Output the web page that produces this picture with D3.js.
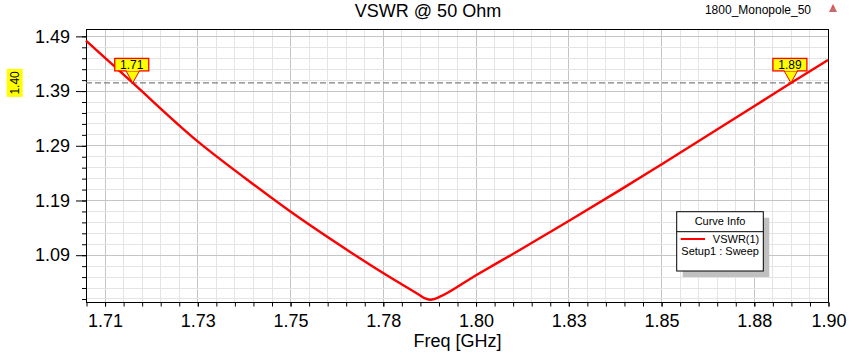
<!DOCTYPE html>
<html>
<head>
<meta charset="utf-8">
<script src="https://cdn.jsdelivr.net/npm/d3@7"></script>
<style>
  html, body { margin: 0; padding: 0; background: #ffffff; }
  svg { display: block; }
  text { font-family: Arial, "Liberation Sans", sans-serif; fill: #000; }
</style>
</head>
<body>
<svg id="chart" width="855" height="352"></svg>
<script>
// ---- data ----
const freq = [1.7000, 1.7126, 1.7301, 1.7431, 1.7550, 1.7712, 1.7801, 1.7900, 1.7914, 1.7927, 1.7940, 1.7954, 1.8049, 1.8152, 1.8300, 1.8439, 1.8552, 1.8803, 1.8900, 1.9000];
const vswr = [1.4814, 1.4040, 1.2972, 1.2289, 1.1694, 1.0951, 1.0564, 1.0158, 1.0100, 1.0077, 1.0092, 1.0132, 1.0516, 1.0918, 1.1510, 1.2080, 1.2555, 1.3622, 1.4040, 1.4459];

const xTickValues = [1.705, 1.730, 1.755, 1.780, 1.805, 1.830, 1.855, 1.880, 1.900];
const xTickLabels = ["1.71", "1.73", "1.75", "1.78", "1.80", "1.83", "1.85", "1.88", "1.90"];
const xMinorValues = [1.700,1.705,1.710,1.715,1.720,1.725,1.730,1.735,1.740,1.745,1.750,1.755,1.760,1.765,1.770,1.775,1.780,1.785,1.790,1.795,1.800,1.805,1.810,1.815,1.820,1.825,1.830,1.835,1.840,1.845,1.850,1.855,1.860,1.865,1.870,1.875,1.880,1.885,1.890,1.895,1.900];
const yTickValues = [1.09, 1.19, 1.29, 1.39, 1.49];
const yTickLabels = ["1.09", "1.19", "1.29", "1.39", "1.49"];
const yMinorValues = [1.01,1.03,1.05,1.07,1.09,1.11,1.13,1.15,1.17,1.19,1.21,1.23,1.25,1.27,1.29,1.31,1.33,1.35,1.37,1.39,1.41,1.43,1.45,1.47,1.49];

const markerFreqs = [1.7126, 1.8900];
const markerValues = [1.4040, 1.4040];
const markerLabels = ["1.71", "1.89"];
const refLevel = 1.4040;
const refLabel = "1.40";

const xDomain = [1.70, 1.90];
const yDomain = [1.003, 1.502];

const titleText = "VSWR @ 50 Ohm";
const projectText = "1800_Monopole_50";
const xAxisTitle = "Freq [GHz]";
const legendTitle = "Curve Info";
const seriesName = "VSWR(1)";
const seriesSetup = "Setup1 : Sweep";

// ---- layout ----
const L = 86, T = 29.3, R = 828, B = 302.3;
const svg = d3.select("#chart");

const x = d3.scaleLinear().domain(xDomain).range([L, R]);
const y = d3.scaleLinear().domain(yDomain).range([B, T]);

const majorSetX = new Set(xTickValues.map(v => v.toFixed(3)));
const majorSetY = new Set(yTickValues.map(v => v.toFixed(2)));

// grid
const grid = svg.append("g");
grid.selectAll("line.vx").data(xMinorValues).enter().append("line")
  .attr("x1", d => Math.round(x(d)) + 0.5).attr("x2", d => Math.round(x(d)) + 0.5)
  .attr("y1", T).attr("y2", B)
  .attr("stroke", d => majorSetX.has(d.toFixed(3)) ? "#c4c4c4" : "#e4e4e4")
  .attr("stroke-width", 1);
grid.selectAll("line.hy").data(yMinorValues).enter().append("line")
  .attr("y1", d => Math.round(y(d)) + 0.5).attr("y2", d => Math.round(y(d)) + 0.5)
  .attr("x1", L).attr("x2", R)
  .attr("stroke", d => majorSetY.has(d.toFixed(2)) ? "#c4c4c4" : "#e4e4e4")
  .attr("stroke-width", 1);

// axes
const fontAxis = "18px";
const gxMinor = svg.append("g").attr("transform", `translate(0.5,${Math.round(B)+0.5})`)
  .call(d3.axisBottom(x).tickValues(xMinorValues).tickSize(4).tickSizeOuter(0).tickFormat(""));
gxMinor.select(".domain").remove();
const gx = svg.append("g").attr("transform", `translate(0.5,${Math.round(B)+0.5})`)
  .call(d3.axisBottom(x).tickValues(xTickValues).tickSize(4).tickSizeOuter(0).tickPadding(8)
    .tickFormat((d, i) => xTickLabels[i]));
gx.select(".domain").remove();
gx.selectAll("text").style("font-size", fontAxis).attr("fill", "#1a1a1a");

const gyMinor = svg.append("g").attr("transform", `translate(${L}, 0.5)`)
  .call(d3.axisLeft(y).tickValues(yMinorValues).tickSize(4).tickSizeOuter(0).tickFormat(""));
gyMinor.select(".domain").remove();
const gy = svg.append("g").attr("transform", `translate(${L}, 0.5)`)
  .call(d3.axisLeft(y).tickValues(yTickValues).tickSize(10).tickSizeOuter(0).tickPadding(6)
    .tickFormat((d, i) => yTickLabels[i]));
gy.select(".domain").remove();
gy.selectAll("text").style("font-size", fontAxis).attr("fill", "#1a1a1a");
svg.selectAll(".tick line").attr("stroke", "#000");

// frame
svg.append("rect").attr("x", L + 0.5).attr("y", Math.round(T) + 0.5)
  .attr("width", Math.round(R) - L).attr("height", Math.round(B) - Math.round(T))
  .attr("fill", "none").attr("stroke", "#000").attr("stroke-width", 1);

// reference dashed line
svg.append("line")
  .attr("x1", L).attr("x2", R).attr("y1", y(refLevel)).attr("y2", y(refLevel))
  .attr("stroke", "#808080").attr("stroke-width", 1.3).attr("stroke-dasharray", "6,3");

// curve
const line = d3.line().x(d => x(d[0])).y(d => y(d[1])).curve(d3.curveMonotoneX);
svg.append("path").datum(freq.map((f, i) => [f, vswr[i]]))
  .attr("d", line).attr("fill", "none").attr("stroke", "#ff0000").attr("stroke-width", 2.4)
  .attr("stroke-linejoin", "round");

// markers
const mk = svg.append("g").selectAll("g").data(markerFreqs).enter().append("g")
  .attr("transform", (d, i) => `translate(${x(d)},${y(markerValues[i])})`);
mk.append("path").attr("d", "M-7,-12.5 L0,0 L7,-12.5 Z")
  .attr("fill", "#ffff00").attr("stroke", "#ff0000").attr("stroke-width", 1);
mk.append("rect").attr("x", -18).attr("y", -24.5).attr("width", 34).attr("height", 12.5)
  .attr("fill", "#ffff00").attr("stroke", "#ff0000").attr("stroke-width", 1.3);
mk.append("path").attr("d", "M-6.2,-12.6 L6.2,-12.6").attr("stroke", "#ffff00").attr("stroke-width", 1.6);
mk.append("text").attr("x", -1).attr("y", -13.8).attr("text-anchor", "middle")
  .style("font-size", "12px").text((d, i) => markerLabels[i]);

// reference label on left
const ry = y(refLevel);
svg.append("rect").attr("x", 6.7).attr("y", ry - 14).attr("width", 16).attr("height", 28)
  .attr("fill", "#ffff00");
svg.append("text").attr("transform", `translate(19,${ry}) rotate(-90)`)
  .attr("text-anchor", "middle").style("font-size", "12px").text(refLabel);

// title and texts
svg.append("text").attr("x", 428).attr("y", 17).attr("text-anchor", "middle")
  .style("font-size", "18px").text(titleText);
svg.append("text").attr("x", 758).attr("y", 13.5).attr("text-anchor", "middle")
  .style("font-size", "12px").text(projectText);
svg.append("text").attr("x", 457.5).attr("y", 346.5).attr("text-anchor", "middle")
  .style("font-size", "18px").text(xAxisTitle);

// small logo icon
const ic = svg.append("g").attr("transform", "translate(833,4)");
ic.append("path").attr("d", "M0,0 L4,8 L-4,8 Z").attr("fill", "#e05050");
ic.append("path").attr("d", "M-2,5 L2,5 M-3,7 L3,7").attr("stroke", "#999").attr("stroke-width", 0.8);

// legend
const lg = svg.append("g");
const lx = 676.7, ly = 211.7, lw = 86.6, lh = 59.3;
lg.append("rect").attr("x", lx + 6).attr("y", ly + 6).attr("width", lw).attr("height", lh).attr("fill", "#c0c0c0");
lg.append("rect").attr("x", lx).attr("y", ly).attr("width", lw).attr("height", lh)
  .attr("fill", "#fff").attr("stroke", "#000").attr("stroke-width", 1);
lg.append("line").attr("x1", lx).attr("x2", lx + lw).attr("y1", 231.7).attr("y2", 231.7)
  .attr("stroke", "#000").attr("stroke-width", 1);
lg.append("text").attr("x", 720).attr("y", 224.5).attr("text-anchor", "middle")
  .style("font-size", "11px").text(legendTitle);
lg.append("line").attr("x1", 680.7).attr("x2", 705).attr("y1", 239).attr("y2", 239)
  .attr("stroke", "#ff0000").attr("stroke-width", 2);
lg.append("text").attr("x", 759.3).attr("y", 242.7).attr("text-anchor", "end")
  .style("font-size", "11px").text(seriesName);
lg.append("text").attr("x", 681.3).attr("y", 255).style("font-size", "11px").text(seriesSetup);
</script>
</body>
</html>
